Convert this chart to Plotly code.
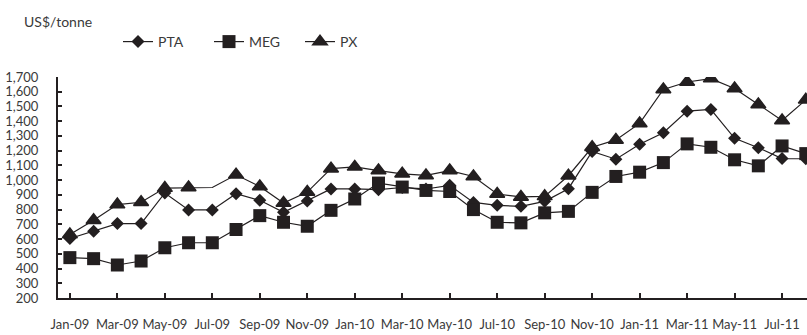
import plotly.graph_objects as go

months = ["Jan-09","Feb-09","Mar-09","Apr-09","May-09","Jun-09","Jul-09","Aug-09","Sep-09","Oct-09","Nov-09","Dec-09",
          "Jan-10","Feb-10","Mar-10","Apr-10","May-10","Jun-10","Jul-10","Aug-10","Sep-10","Oct-10","Nov-10","Dec-10",
          "Jan-11","Feb-11","Mar-11","Apr-11","May-11","Jun-11","Jul-11","Aug-11"]
tick_labels = months[::2]

pta = [604, 653, 705, 705, 913, 798, 798, 908, 863, 782, 859, 940,
       940, 935, 950, 940, 965, 849, 829, 822, 856, 942, 1194, 1142,
       1244, 1322, 1468, 1480, 1284, 1220, 1146, 1145]
meg = [474, 467, 424, 451, 541, 575, 575, 665, 759, 714, 687, 795,
       872, 980, 953, 930, 923, 800, 714, 710, 778, 788, 917, 1025,
       1054, 1119, 1246, 1223, 1138, 1097, 1232, 1180]
px = [631, 728, 834, 850, 946, 950, 950, 1036, 957, 845, 919, 1078,
      1090, 1065, 1043, 1032, 1065, 1025, 906, 886, 890, 1030, 1223, 1273,
      1385, 1615, 1666, 1689, 1622, 1514, 1405, 1545]

ink = "#231f20"
txt = "#3a3a3a"
font_family = "Lato"

# plot area in pixels
L, T, B, W, H = 58, 77, 37, 807, 335
PW, PH = W - L, H - T - B

def px_to_paper(x, y):
    return (x - L) / PW, (H - B - y) / PH

fig = go.Figure()
xs = list(range(len(months)))

fig.add_trace(go.Scatter(x=xs, y=pta, name="PTA", mode="lines+markers",
                         line=dict(color=ink, width=1.2),
                         marker=dict(symbol="diamond", size=10, color=ink,
                                     line=dict(width=0))))
fig.add_trace(go.Scatter(x=xs, y=meg, name="MEG", mode="lines+markers",
                         line=dict(color=ink, width=1.2),
                         marker=dict(symbol="square", size=13, color=ink,
                                     line=dict(width=0))))
px_sizes = [13] * len(px)
px_sizes[6] = 0
fig.add_trace(go.Scatter(x=xs, y=px, name="PX", mode="lines+markers",
                         line=dict(color=ink, width=1.2),
                         marker=dict(symbol="triangle-up", size=px_sizes, color=ink,
                                     line=dict(width=1.5, color=ink), opacity=1)))

lx, ly = px_to_paper(118, 42)
ax, ay = px_to_paper(22, 21)
fig.update_layout(
    width=W, height=H,
    margin=dict(l=L, r=0, t=T, b=B, autoexpand=False),
    paper_bgcolor="white", plot_bgcolor="white",
    font=dict(family=font_family, size=13, color=txt),
    showlegend=True,
    legend=dict(orientation="h", x=lx, y=ly, xanchor="left", yanchor="middle",
                font=dict(family=font_family, size=14, color=txt),
                itemwidth=30, entrywidth=46, entrywidthmode="pixels",
                bgcolor="rgba(0,0,0,0)"),
    annotations=[dict(text="US$/tonne", x=ax, y=ay, xref="paper", yref="paper",
                      showarrow=False, font=dict(family=font_family, size=14, color=txt),
                      xanchor="left", yanchor="middle")],
)

fig.update_xaxes(range=[-0.5, 31.05], showline=True, linecolor=ink, linewidth=2,
                 ticks="inside", ticklen=5, tickwidth=1.5, tickcolor=ink,
                 tickvals=xs[::2], ticktext=tick_labels, automargin=False,
                 showgrid=False, zeroline=False, ticklabelstandoff=13,
                 tickfont=dict(size=13))
fig.update_yaxes(range=[200, 1700], showline=True, linecolor=ink, linewidth=2,
                 ticks="inside", ticklen=4, tickwidth=1.5, tickcolor=ink,
                 dtick=100, tick0=200, tickformat=",d", automargin=False,
                 showgrid=False, zeroline=False, ticklabelstandoff=15,
                 tickfont=dict(size=13))

fig.write_html("out.html", config={"displayModeBar": False},
               post_script="document.body.style.margin='0';document.body.style.overflow='hidden';")
